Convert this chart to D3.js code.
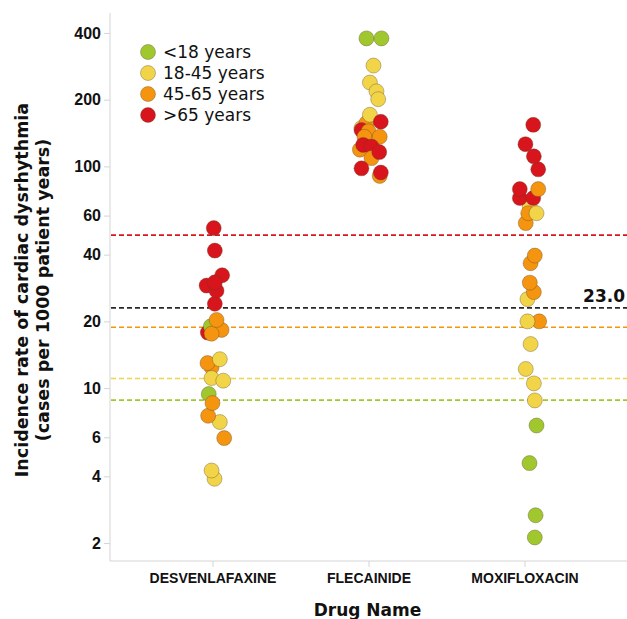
<!DOCTYPE html>
<html>
<head>
<meta charset="utf-8">
<script src="https://cdn.jsdelivr.net/npm/d3@7"></script>
<style>
  html, body { margin: 0; padding: 0; background: #fff; }
  svg { display: block; }
</style>
</head>
<body>
<svg id="chart" width="627" height="619"></svg>
<script>
// Drugs shown on the x axis
const drugs = ["DESVENLAFAXINE", "FLECAINIDE", "MOXIFLOXACIN"];

// Age groups (legend order) and their colours
const ageGroups = ["<18 years", "18-45 years", "45-65 years", ">65 years"];
const ageColors = ["#a0c82e", "#f2d449", "#f5940f", "#d8141c"];

// Incidence rates per drug: [age group index, rate, horizontal jitter (fraction of category step)]
const desvenlafaxinePoints = [
  [1, 3.9, 0.013], [1, 4.25, -0.006], [2, 5.95, 0.075], [1, 7.03, 0.047],
  [2, 7.5, -0.028], [0, 9.4, -0.024], [2, 8.56, 0.0], [2, 12.4, -0.006],
  [1, 11.1, -0.006], [1, 10.8, 0.069], [2, 12.97, -0.032], [1, 13.5, 0.047],
  [3, 17.8, -0.03], [0, 19.0, -0.011], [2, 18.3, 0.058], [2, 17.6, -0.006],
  [2, 20.3, 0.026], [3, 24.0, 0.015], [3, 32.3, 0.062], [3, 29.0, -0.038],
  [3, 27.5, 0.026], [3, 30.0, 0.015], [3, 41.7, 0.015], [3, 52.7, 0.008]
];
const flecainidePoints = [
  [0, 378, -0.013], [0, 378, 0.083], [1, 285, 0.032], [1, 239, 0.009],
  [1, 218, 0.051], [1, 201, 0.062], [1, 149, -0.045], [2, 157, -0.013],
  [1, 171, 0.009], [3, 159, 0.079], [3, 146, -0.045], [2, 144, 0.0],
  [2, 136, -0.026], [2, 136, 0.072], [2, 119, -0.055], [1, 119, 0.039],
  [3, 125, -0.034], [3, 123, 0.019], [2, 109, 0.019], [3, 116, 0.069],
  [3, 98, -0.045], [2, 90.6, 0.072], [3, 93.8, 0.079]
];
const moxifloxacinPoints = [
  [0, 2.12, 0.066], [0, 2.67, 0.071], [0, 4.59, 0.032], [0, 6.78, 0.077],
  [1, 8.8, 0.066], [1, 10.5, 0.06], [1, 12.2, 0.008], [1, 15.8, 0.039],
  [2, 20.0, 0.094], [1, 20.0, 0.019], [1, 25.2, 0.019], [2, 27.1, 0.06],
  [2, 29.9, 0.034], [2, 36.6, 0.039], [2, 39.6, 0.066], [2, 55.5, 0.008],
  [1, 66.0, 0.034], [2, 61.5, 0.024], [1, 61.5, 0.077], [3, 72.0, -0.03],
  [3, 79.0, -0.03], [3, 72.0, 0.056], [2, 79.0, 0.088], [3, 97.0, 0.088],
  [3, 111.0, 0.06], [3, 126.0, 0.006], [3, 154.0, 0.056]
];
const pointsByDrug = [desvenlafaxinePoints, flecainidePoints, moxifloxacinPoints];

// Reference levels per age group, plus the overall rate
const referenceValues = [8.83, 11.05, 18.8, 49.0];
const overallRate = 23.0;

// Y tick values
const yTicks = [2, 4, 6, 10, 20, 40, 60, 100, 200, 400];

const svg = d3.select("#chart");
const plotLeft = 110, plotRight = 627, plotTop = 13, plotBottom = 561;

const x = d3.scalePoint().domain(drugs).range([plotLeft, plotRight]).padding(0.657);
const y = d3.scaleLog().domain([1.66, 492]).range([plotBottom, plotTop]);

// Axis lines
const axisColor = "#d4d4d4";
svg.append("line").attr("x1", plotLeft).attr("x2", plotLeft).attr("y1", plotTop).attr("y2", plotBottom)
  .attr("stroke", axisColor).attr("stroke-width", 1);
svg.append("line").attr("x1", plotLeft).attr("x2", plotRight).attr("y1", plotBottom).attr("y2", plotBottom)
  .attr("stroke", axisColor).attr("stroke-width", 1);

// Y axis
const yAxis = svg.append("g").attr("transform", `translate(${plotLeft},0)`)
  .call(d3.axisLeft(y).tickValues(yTicks).tickFormat(d3.format("d")).tickSize(6).tickPadding(3));
yAxis.select(".domain").remove();
yAxis.selectAll(".tick line").attr("stroke", axisColor);
yAxis.selectAll(".tick text")
  .attr("fill", "#111")
  .style("font-family", "'Liberation Sans', Arial, sans-serif")
  .style("font-weight", "bold")
  .style("font-size", "16px");

// X axis
const xAxis = svg.append("g").attr("transform", `translate(0,${plotBottom})`)
  .call(d3.axisBottom(x).tickSize(6).tickPadding(6));
xAxis.select(".domain").remove();
xAxis.selectAll(".tick line").attr("stroke", axisColor);
xAxis.selectAll(".tick text")
  .attr("fill", "#111")
  .style("font-family", "'Liberation Sans', Arial, sans-serif")
  .style("font-weight", "bold")
  .style("font-size", "14px");

// Dashed reference lines
const refLines = referenceValues.map((v, i) => ({ v, color: ageColors[i] }))
  .concat([{ v: overallRate, color: "#2a2a2a" }]);
svg.append("g").selectAll("line").data(refLines).join("line")
  .attr("x1", plotLeft + 1).attr("x2", plotRight)
  .attr("y1", d => y(d.v)).attr("y2", d => y(d.v))
  .attr("stroke", d => d.color)
  .attr("stroke-width", 1.6)
  .attr("stroke-dasharray", "5,3");

svg.append("text")
  .attr("x", 625).attr("y", y(overallRate) - 6)
  .attr("text-anchor", "end")
  .style("font-family", "'DejaVu Sans', Verdana, sans-serif")
  .style("font-weight", "bold")
  .style("font-size", "17px")
  .attr("fill", "#111")
  .text(d3.format(".1f")(overallRate));

// Points
const step = x.step();
const pts = svg.append("g");
pointsByDrug.forEach((list, di) => {
  pts.selectAll(null).data(list).join("circle")
    .attr("cx", d => x(drugs[di]) + d[2] * step)
    .attr("cy", d => y(d[1]))
    .attr("r", 7.5)
    .attr("fill", d => ageColors[d[0]])
    .attr("stroke", "rgba(90,70,40,0.45)")
    .attr("stroke-width", 0.8);
});

// Legend
const legend = svg.append("g").attr("transform", "translate(148,52)");
const items = legend.selectAll("g").data(ageGroups).join("g")
  .attr("transform", (d, i) => `translate(0,${i * 21})`);
items.append("circle").attr("r", 7.5)
  .attr("fill", (d, i) => ageColors[i])
  .attr("stroke", "rgba(90,70,40,0.45)").attr("stroke-width", 0.8);
items.append("text").attr("x", 15).attr("y", 6)
  .style("font-family", "'DejaVu Sans', Verdana, sans-serif")
  .style("font-size", "17px")
  .attr("fill", "#111")
  .text(d => d);

// Axis titles
svg.append("text")
  .attr("x", (plotLeft + plotRight) / 2 - 1).attr("y", 616)
  .attr("text-anchor", "middle")
  .style("font-family", "'DejaVu Sans', Verdana, sans-serif")
  .style("font-weight", "bold")
  .style("font-size", "17px")
  .attr("fill", "#111")
  .text("Drug Name");

const yTitle = svg.append("text")
  .attr("transform", "translate(28,290) rotate(-90)")
  .attr("text-anchor", "middle")
  .style("font-family", "'DejaVu Sans', Verdana, sans-serif")
  .style("font-weight", "bold")
  .style("font-size", "17.5px")
  .attr("fill", "#111");
yTitle.append("tspan").attr("x", 0).attr("y", 0).text("Incidence rate of cardiac dysrhythmia");
yTitle.append("tspan").attr("x", 0).attr("y", 21).text("(cases per 1000 patient years)");
</script>
</body>
</html>
